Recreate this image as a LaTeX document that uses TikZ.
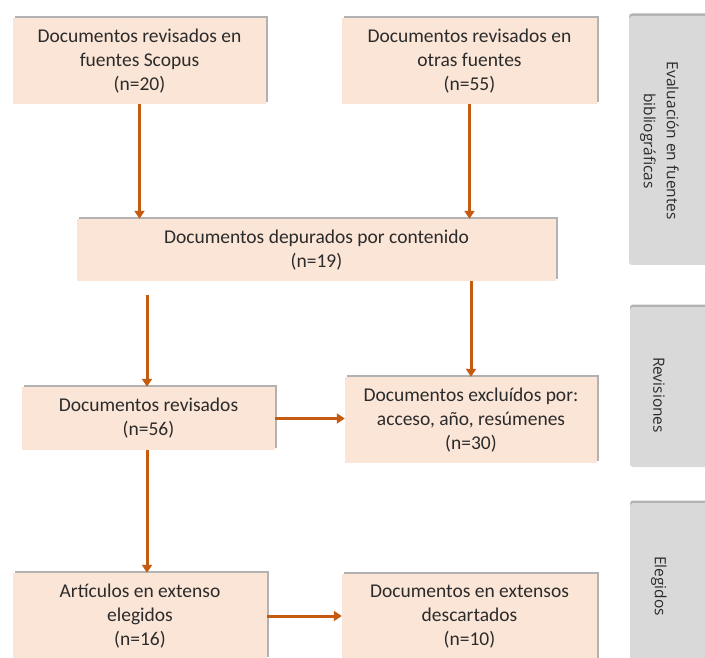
\documentclass[tikz,border=0pt]{standalone}
\usepackage{fontspec}
\setmainfont{Carlito}
\newfontfamily\panelfont{Open Sans}
\usetikzlibrary{arrows.meta,shadows}
\definecolor{boxfill}{HTML}{FBE5D6}
\definecolor{arrowc}{HTML}{C55A11}
\definecolor{panelfill}{HTML}{D9D9D9}
\definecolor{txt}{HTML}{2B2B2B}
\begin{document}
\begin{tikzpicture}[x=1pt,y=-1pt,
  stepbox/.style={rectangle, fill=boxfill, draw=none, inner sep=0pt, align=center,
    font=\fontsize{19.5}{24}\selectfont, text=txt,
    drop shadow={shadow xshift=1.5pt, shadow yshift=2pt, fill=black, opacity=0.3}},
  panel/.style={rectangle, fill=panelfill, draw=none, rounded corners=3pt, inner sep=0pt,
    drop shadow={shadow xshift=0pt, shadow yshift=2.5pt, fill=black, opacity=0.3}},
  paneltext/.style={rotate=-90, align=center, inner sep=0pt, text=txt,
    font=\panelfont\fontsize{15.5}{23}\selectfont},
  arr/.style={draw=arrowc, line width=3pt, -{Triangle[width=10pt,length=8pt]}}]
\useasboundingbox (0,0) rectangle (705,658);
\clip (0,0) rectangle (705,658);
\fill[white] (0,0) rectangle (705,658);

% side panels
\node[panel, minimum width=100pt, minimum height=249pt] (p1) at (679,140.5) {};
\node[panel, minimum width=100pt, minimum height=160pt] (p2) at (680,387) {};
\node[panel, minimum width=100pt, minimum height=166pt] (p3) at (680,586) {};
\node[paneltext] (t1) at (659.5,141) {Evaluación en fuentes\\bibliográficas};
\node[paneltext] (t2) at (659,395) {Revisiones};
\node[paneltext] (t3) at (659,586) {Elegidos};

% boxes
\node[stepbox, minimum width=253pt, minimum height=86pt] (b1) at (139.5,61)
  {Documentos revisados en\\fuentes Scopus\\(n=20)};
\node[stepbox, minimum width=255pt, minimum height=86pt] (b2) at (469.5,61)
  {Documentos revisados en\\otras fuentes\\(n=55)};
\node[stepbox, minimum width=479pt, minimum height=62pt] (b3) at (316.5,250)
  {Documentos depurados por contenido\\(n=19)};
\node[stepbox, minimum width=253pt, minimum height=63pt] (b4) at (148.5,418.5)
  {Documentos revisados\\(n=56)};
\node[stepbox, minimum width=252pt, minimum height=86pt] (b5) at (471,420)
  {Documentos excluídos por:\\acceso, año, resúmenes\\(n=30)};
\node[stepbox, minimum width=254pt, minimum height=86pt] (b6) at (140,616)
  {Artículos en extenso\\elegidos\\(n=16)};
\node[stepbox, minimum width=255pt, minimum height=86pt] (b7) at (469.5,617)
  {Documentos en extensos\\descartados\\(n=10)};

\coordinate (c1) at (147,295);

% connectors
\draw[arr] (b1.south) -- (b1.south |- b3.north);
\draw[arr] (b2.south) -- (b2.south |- b3.north);
\draw[arr] (c1) -- (c1 |- b4.north);
\draw[arr] (b5.north |- b3.south) -- (b5.north);
\draw[arr] (b4.east) -- (b4.east -| b5.west);
\draw[arr] (c1 |- b4.south) -- (c1 |- b6.north);
\draw[arr] (b6.east) -- (b6.east -| b7.west);
\end{tikzpicture}
\end{document}
